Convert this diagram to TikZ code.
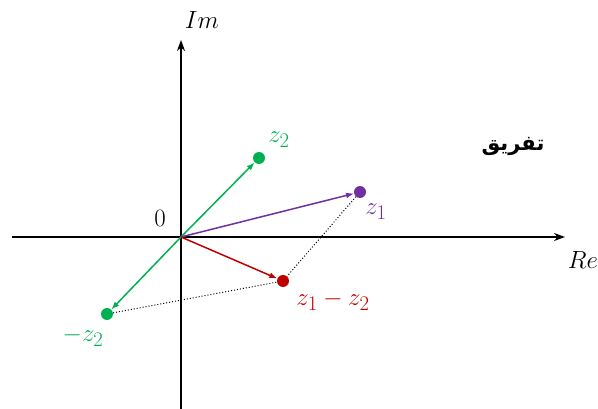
\documentclass[tikz,border=0pt]{standalone}
\usepackage{fontspec}
\usepackage{xcolor}
\usepackage{tikz}
\usetikzlibrary{arrows.meta, positioning}
\newfontfamily\arabicfont[Script=Arabic]{DejaVu Sans}
\TeXXeTstate=1
\definecolor{zgreen}{RGB}{0,176,80}
\definecolor{zpurple}{RGB}{112,48,160}
\definecolor{zred}{RGB}{192,0,0}

\begin{document}
\begin{tikzpicture}[x=1pt, y=-1pt,
    axis/.style={-{Stealth[length=11pt, width=8pt]}, line width=1.8pt},
    dot/.style={circle, fill=#1, inner sep=0pt, minimum size=12pt},
    vec/.style={-{Latex[length=8pt, width=6pt]}, line width=1.5pt, color=#1},
    aux/.style={dotted, line width=1pt},
    lbl/.style={font=\fontsize{25}{30}\selectfont, inner sep=0pt},
    zlbl/.style={font=\fontsize{29}{34}\selectfont, inner sep=0pt, text=#1}
]
\useasboundingbox (0,0) rectangle (598,409);
% axes
\coordinate (o) at (181,237);
\coordinate (xs) at (12,237);
\coordinate (xe) at (565,237);
\coordinate (ys) at (181,409);
\coordinate (ye) at (181,40);
\draw[axis] (xs) -- (xe);
\draw[axis] (ys) -- (ye);
\node[lbl] (re) at (583,260) {$Re$};
\node[lbl] (im) at (202,20) {$Im$};
\node[lbl] (zero) at (160,218) {$0$};
% points
\node[dot=zgreen] (z2) at (259,158) {};
\node[dot=zpurple] (z1) at (360,192) {};
\node[dot=zred] (zd) at (283,281) {};
\node[dot=zgreen] (mz2) at (107,314) {};
\draw[vec=zgreen] (o) -- (z2);
\draw[vec=zgreen] (o) -- (mz2);
\draw[vec=zpurple] (o) -- (z1);
\draw[vec=zred] (o) -- (zd);
\draw[aux] (z1) -- (zd);
\draw[aux] (mz2) -- (zd);
\node[zlbl=zgreen] (z2l) at (279,140) {$z_2$};
\node[zlbl=zpurple] (z1l) at (376,212) {$z_1$};
\node[zlbl=zred] (zdl) at (333,301) {$z_1-z_2$};
\node[zlbl=zgreen] (mz2l) at (83,337) {$-z_2$};
\node[inner sep=0pt] (title) at (513,146) {\fontsize{21}{25}\selectfont\arabicfont\bfseries\beginR تفريق\endR};
\end{tikzpicture}
\end{document}
